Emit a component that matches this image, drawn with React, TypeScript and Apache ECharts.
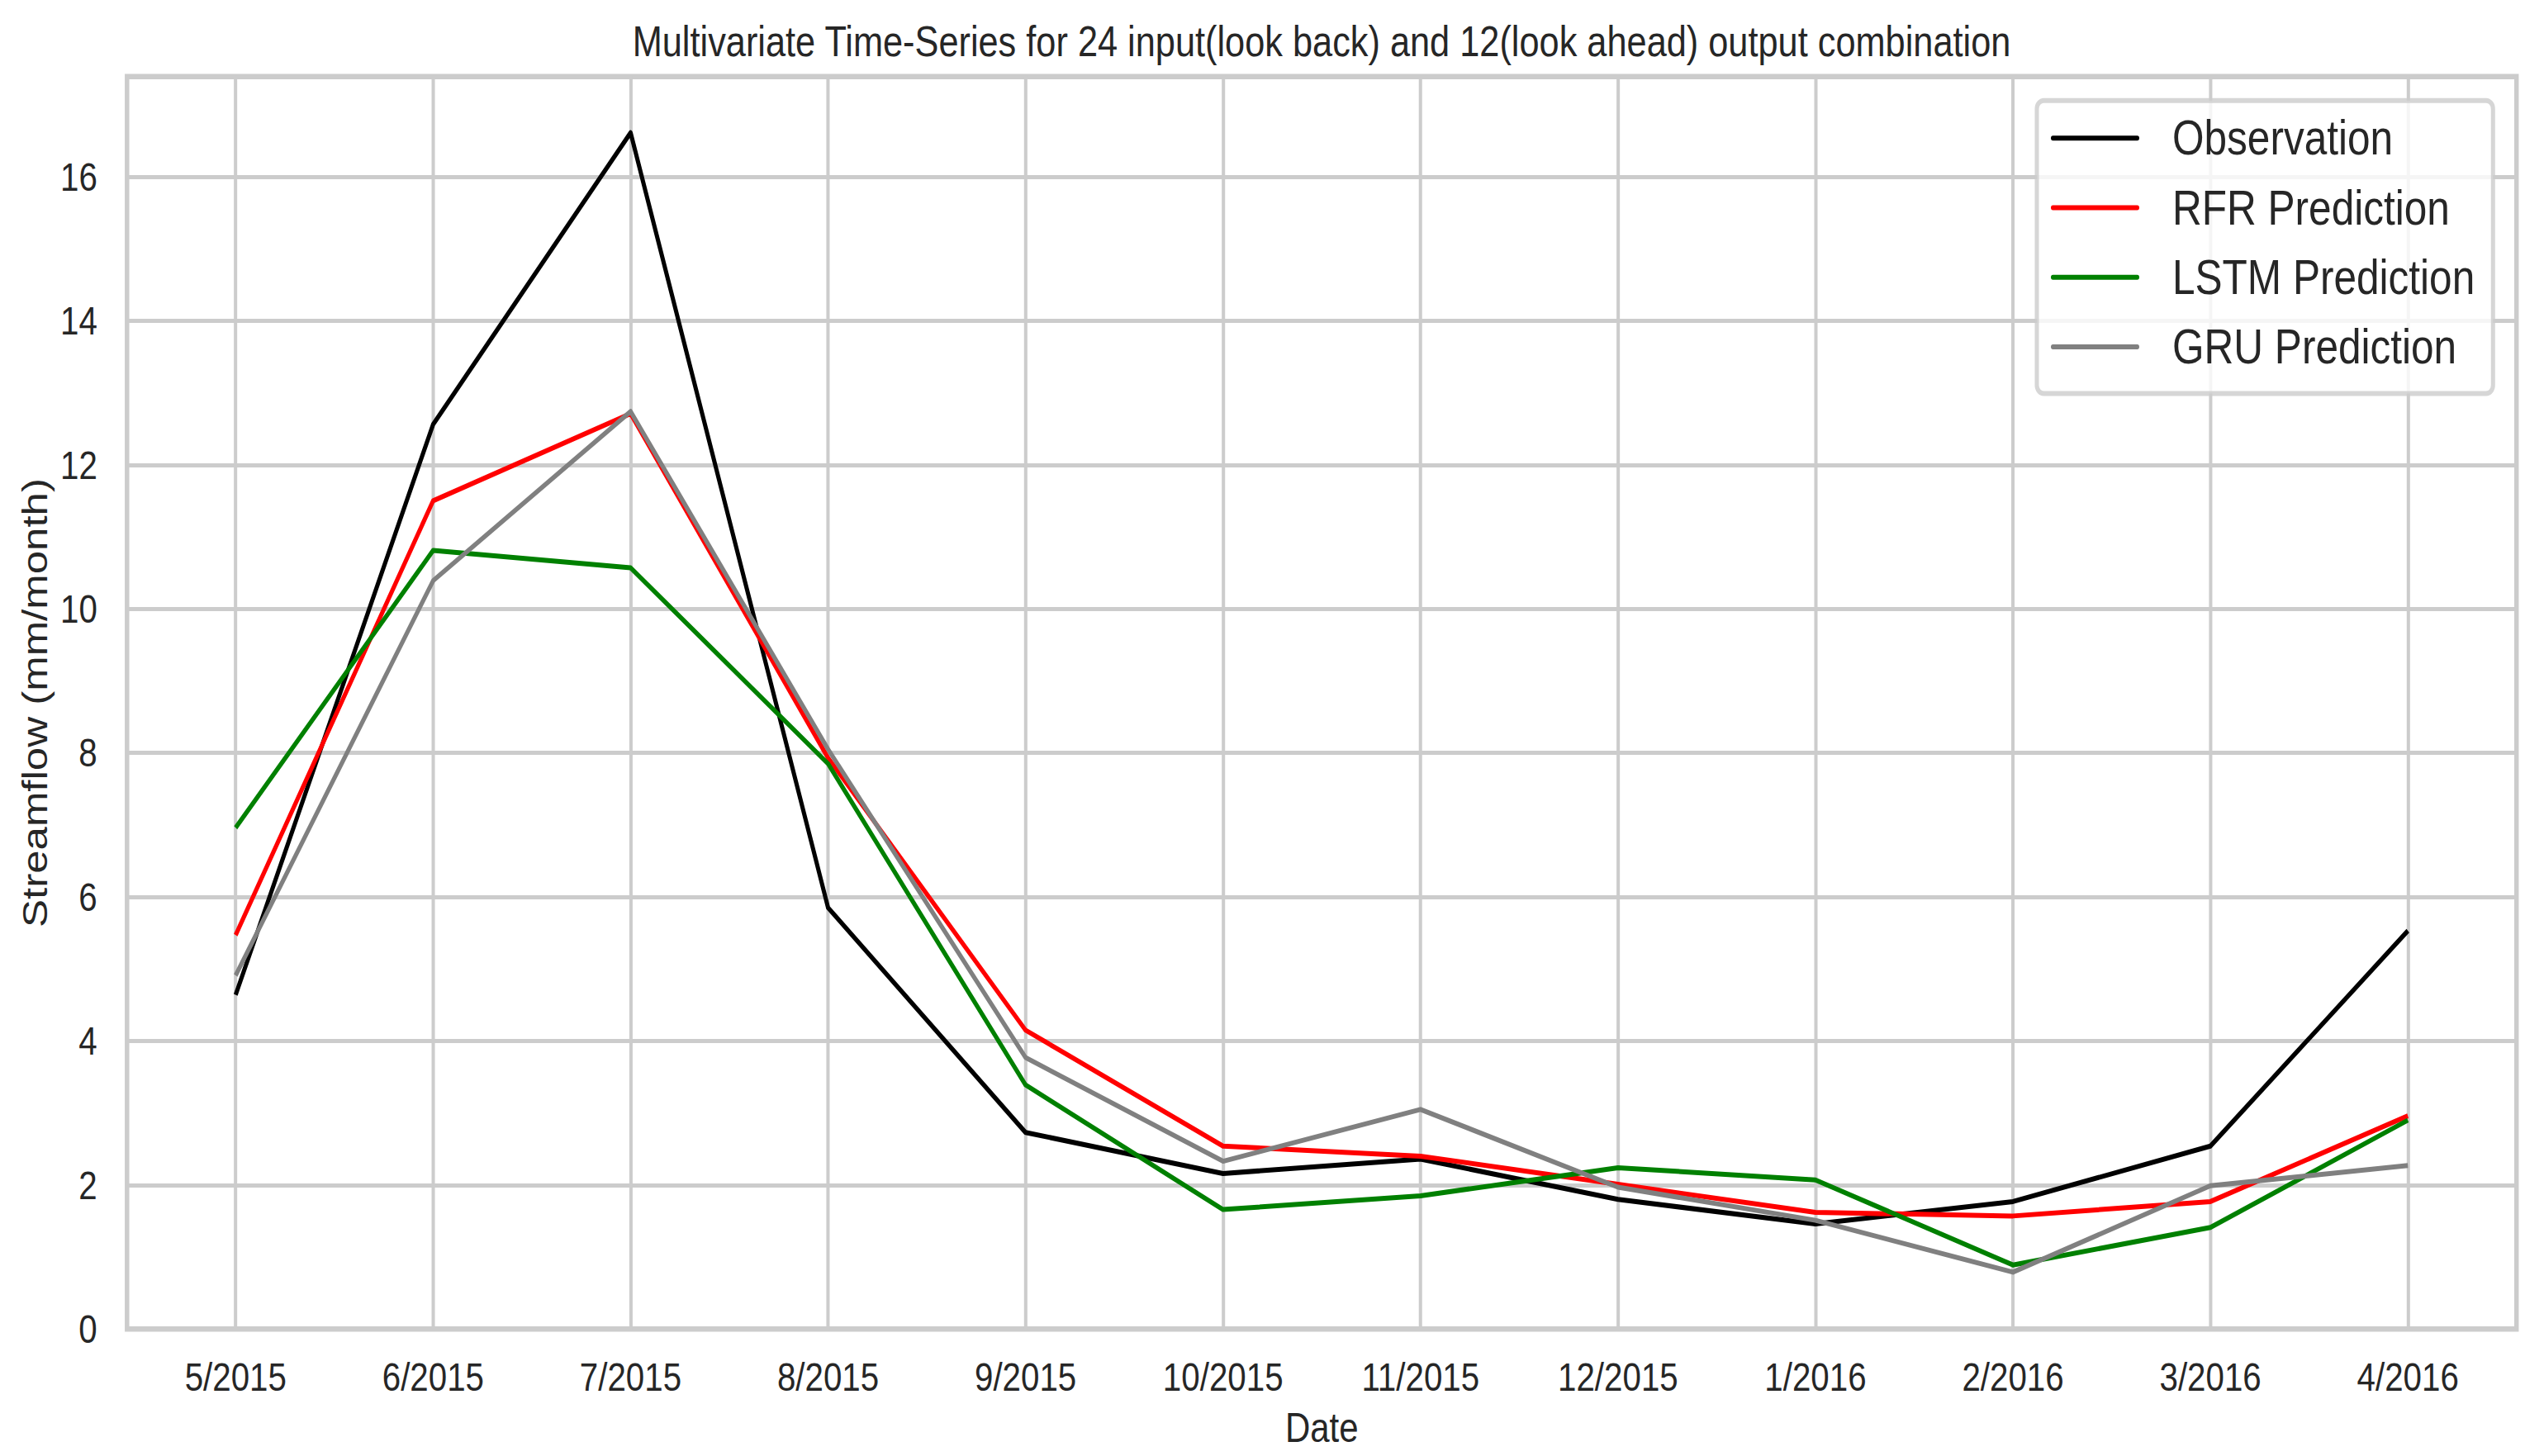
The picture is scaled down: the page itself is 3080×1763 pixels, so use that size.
import React, { useEffect, useRef } from "react";
import * as echarts from "echarts";

const categories = ["5/2015", "6/2015", "7/2015", "8/2015", "9/2015", "10/2015", "11/2015", "12/2015", "1/2016", "2/2016", "3/2016", "4/2016"];
const observation = [4.64, 12.56, 16.61, 5.85, 2.73, 2.16, 2.36, 1.8, 1.46, 1.77, 2.54, 5.53];
const rfrPrediction = [5.47, 11.5, 12.71, 7.93, 4.15, 2.54, 2.4, 2.01, 1.62, 1.57, 1.77, 2.96];
const lstmPrediction = [6.96, 10.81, 10.57, 7.85, 3.39, 1.66, 1.85, 2.24, 2.07, 0.89, 1.41, 2.9];
const gruPrediction = [4.91, 10.39, 12.74, 8.05, 3.77, 2.33, 3.05, 1.97, 1.51, 0.79, 1.99, 2.27];
const yTickValues = [0, 2, 4, 6, 8, 10, 12, 14, 16];
const seriesNames = ["Observation", "RFR Prediction", "LSTM Prediction", "GRU Prediction"];
const seriesColors = ["#000000", "#ff0000", "#008000", "#808080"];

const FONT = "'Liberation Sans', Arial, Helvetica, sans-serif";
const TEXT = "#262626";
const GRID = "#cccccc";

// The reference picture is horizontally condensed; the chart is laid out on a wider
// canvas and squeezed back to the page width with a CSS transform.
const PAGE_W = 3080;
const PAGE_H = 1763;
const K = 0.84;
const W = Math.round(PAGE_W / K);
const px = (pageX: number) => pageX / (PAGE_W / W);

export default function App() {
  const ref = useRef<HTMLDivElement>(null);
  useEffect(() => {
    if (!ref.current) return;
    const chart = echarts.init(ref.current, null, { renderer: "svg" });
    const xTickValues = categories.map((_, i) => i);
    const allSeries = [observation, rfrPrediction, lstmPrediction, gruPrediction];
    const iconW = px(107);
    const itemW = px(2630 - 2483) - 5;
    chart.setOption({
      animation: false,
      backgroundColor: "#ffffff",
      title: {
        text: "Multivariate Time-Series for 24 input(look back) and 12(look ahead) output combination",
        left: px(1600),
        top: 24,
        textAlign: "center",
        padding: 0,
        textStyle: { fontFamily: FONT, fontSize: 51.6, lineHeight: 53, fontWeight: "normal", color: TEXT },
      },
      legend: {
        orient: "vertical",
        left: px(2466),
        top: 121.7,
        padding: [15.6, px(22), 26.7, px(17)],
        itemWidth: itemW,
        itemHeight: 60,
        itemGap: 24.2,
        selectedMode: false,
        icon: `path://M3,27H${(iconW - 3).toFixed(1)}A3,3 0 0 1 ${(iconW - 3).toFixed(1)},33H3A3,3 0 0 1 3,27Z M${itemW.toFixed(1)},0L${itemW.toFixed(1)},60`,
        itemStyle: { borderWidth: 0 },
        backgroundColor: "rgba(255,255,255,0.8)",
        borderColor: "rgba(204,204,204,0.8)",
        borderWidth: 6,
        borderRadius: 10,
        textStyle: { fontFamily: FONT, fontSize: 59, lineHeight: 60, color: TEXT },
        data: seriesNames,
      },
      grid: {
        left: px(153.8),
        right: W - px(3046.7),
        top: 92.7,
        bottom: PAGE_H - 1609.3,
        show: true,
        borderColor: GRID,
        borderWidth: 6.5,
        backgroundColor: "transparent",
        containLabel: false,
        outerBoundsMode: "none",
      },
      xAxis: {
        type: "value",
        min: -0.55,
        max: 11.55,
        name: "Date",
        nameLocation: "middle",
        nameGap: 94,
        nameTextStyle: { fontFamily: FONT, fontSize: 50, lineHeight: 50, color: TEXT },
        axisLine: { show: false },
        axisTick: { show: false, customValues: xTickValues },
        axisLabel: {
          customValues: xTickValues,
          formatter: (v: number) => categories[Math.round(v)],
          fontFamily: FONT,
          fontSize: 48,
          lineHeight: 48,
          color: TEXT,
          margin: 34,
        },
        splitLine: { show: true, lineStyle: { color: GRID, width: 4.8 } },
      },
      yAxis: {
        type: "value",
        min: 0,
        max: 17.39,
        name: "Streamflow (mm/month)",
        nameLocation: "middle",
        nameGap: 97,
        nameTextStyle: { fontFamily: FONT, fontSize: 51, lineHeight: 51, color: TEXT },
        axisLine: { show: false },
        axisTick: { show: false, customValues: yTickValues },
        axisLabel: {
          customValues: yTickValues,
          fontFamily: FONT,
          fontSize: 48,
          color: TEXT,
          margin: px(36),
        },
        splitLine: { show: true, lineStyle: { color: GRID, width: 4.8 } },
      },
      series: allSeries.map((vals, k) => ({
        name: seriesNames[k],
        type: "line",
        data: vals.map((v, i) => [i, v]),
        symbol: "none",
        color: seriesColors[k],
        lineStyle: { color: seriesColors[k], width: 6, join: "round" },
        emphasis: { disabled: true },
      })),
    });
    return () => chart.dispose();
  }, []);
  return (
    <div
      ref={ref}
      style={{
        position: "absolute",
        left: 0,
        top: 0,
        width: W,
        height: PAGE_H,
        transform: `scaleX(${PAGE_W / W})`,
        transformOrigin: "0 0",
      }}
    />
  );
}
